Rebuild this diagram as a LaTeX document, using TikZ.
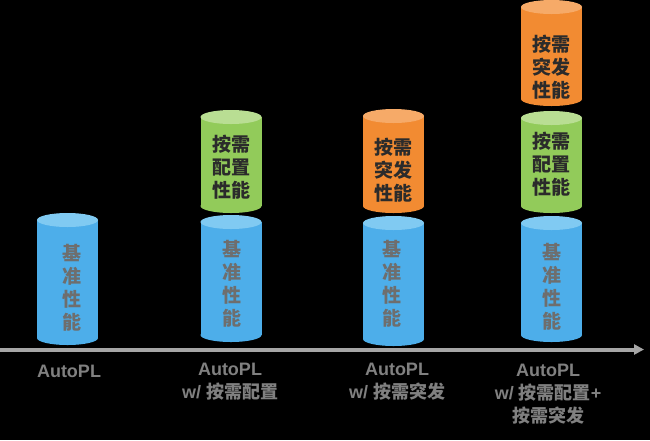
\documentclass[tikz,border=0pt]{standalone}
\usepackage{fontspec}
\setmainfont{Liberation Sans}
\newfontfamily\cjk{Noto Sans CJK SC}
\usetikzlibrary{arrows.meta}
\definecolor{bluebody}{HTML}{4DAEEA}
\definecolor{bluetop}{HTML}{80CAF2}
\definecolor{greenbody}{HTML}{92CB5A}
\definecolor{greentop}{HTML}{B9DE93}
\definecolor{orangebody}{HTML}{F28B32}
\definecolor{orangetop}{HTML}{F6AA68}
\definecolor{basegray}{HTML}{6E6E6E}
\definecolor{labelgray}{HTML}{808080}
\definecolor{axisgray}{HTML}{A6A6A6}
\definecolor{darktext}{HTML}{2B2B2B}
\newcommand\mycyl[5]{%
  \fill[#4] (#1-30.5,#2+7) rectangle (#1+30.5,#3-7);
  \fill[#4] (#1,#3-7) ellipse[x radius=30.5pt,y radius=7pt];
  \fill[#5] (#1,#2+7) ellipse[x radius=30.5pt,y radius=7pt];
}
\tikzset{
  basetext/.style={text=basegray,font=\cjk\bfseries\fontsize{19}{23}\selectfont,align=center,inner sep=0pt},
  toptext/.style={text=darktext,font=\cjk\bfseries\fontsize{19}{23}\selectfont,align=center,inner sep=0pt},
  axislabel/.style={text=labelgray,font=\bfseries\fontsize{18}{23}\selectfont,align=center,inner sep=0pt},
  axisline/.style={draw=axisgray,line width=4pt,-{Triangle[length=10pt,width=10pt]}}
}
\begin{document}
\begin{tikzpicture}[x=1pt,y=-1pt]
\fill[black] (0,0) rectangle (650,440);
\useasboundingbox (0,0) rectangle (650,440);
% cylinders
\mycyl{67.5}{213}{345}{bluebody}{bluetop}
\mycyl{231}{215}{342}{bluebody}{bluetop}
\mycyl{231}{110}{213}{greenbody}{greentop}
\mycyl{393.5}{216}{346}{bluebody}{bluetop}
\mycyl{393.5}{109}{213}{orangebody}{orangetop}
\mycyl{551.5}{216}{342}{bluebody}{bluetop}
\mycyl{551.5}{111}{213}{greenbody}{greentop}
\mycyl{551.5}{0}{106}{orangebody}{orangetop}
% cylinder texts
\node[basetext] (b1) at (72,288) {基\\准\\性\\能};
\node[basetext] (b2) at (232,284) {基\\准\\性\\能};
\node[basetext] (b3) at (392,284) {基\\准\\性\\能};
\node[basetext] (b4) at (552,287) {基\\准\\性\\能};
\node[toptext] (g2) at (231,167) {按需\\配置\\性能};
\node[toptext] (o3) at (393,170) {按需\\突发\\性能};
\node[toptext] (g4) at (551,164) {按需\\配置\\性能};
\node[toptext] (o4) at (551,67) {按需\\突发\\性能};
% axis
\coordinate (ax0) at (0,349.5);
\coordinate (ax1) at (644,349.5);
\draw[axisline] (ax0) -- (ax1);
% labels
\node[axislabel] (l1) at (69,371) {AutoPL};
\node[axislabel] (l2) at (230,382) {AutoPL\\w/ {\cjk 按需配置}};
\node[axislabel] (l3) at (397,382) {AutoPL\\w/ {\cjk 按需突发}};
\node[axislabel] (l4) at (548,394) {AutoPL\\w/ {\cjk 按需配置}+\\{\cjk 按需突发}};
\end{tikzpicture}
\end{document}
